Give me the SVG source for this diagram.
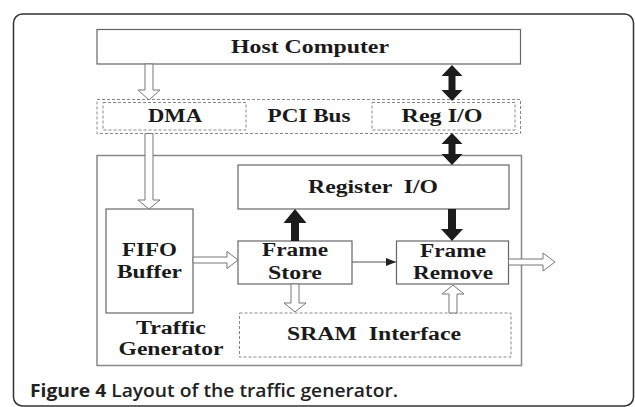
<svg xmlns="http://www.w3.org/2000/svg" width="635" height="407" viewBox="0 0 635 407">
<style>
.t{font-family:"Liberation Serif","Times New Roman",serif;font-weight:bold;font-size:18px;fill:#1a1a1a;text-anchor:middle}
.box{fill:#fff;stroke:#666;stroke-width:1.2}
.dash{fill:none;stroke:#888;stroke-width:1;stroke-dasharray:3,2}
.hollow{fill:#fff;stroke:#777;stroke-width:1}
.solid{fill:#1c1c1c;stroke:none}
.thin{stroke:#555;stroke-width:1.2;fill:none}
.cap{font-family:"Open Sans","Liberation Sans",sans-serif;font-size:18px;fill:#222}
</style>
<defs>
<marker id="ah" viewBox="0 0 10 8" refX="10" refY="4" markerWidth="10" markerHeight="8" markerUnits="userSpaceOnUse" orient="auto">
<path d="M0,0 L10,4 L0,8 z" fill="#222"/>
</marker>
</defs>
<rect x="13.5" y="14" width="620" height="392" rx="9" fill="#fff" stroke="#333" stroke-width="1.5"/>
<g id="traffic-generator">
<rect x="97" y="155.5" width="424.5" height="210" fill="none" stroke="#888" stroke-width="1.5"/>
<text class="t" x="171" y="334" textLength="70" lengthAdjust="spacingAndGlyphs">Traffic</text>
<text class="t" x="171" y="355" textLength="105" lengthAdjust="spacingAndGlyphs">Generator</text>
</g>
<g id="host">
<rect class="box" x="97" y="29.5" width="423.5" height="34.5"/>
<text class="t" x="310" y="52.5" textLength="158" lengthAdjust="spacingAndGlyphs">Host Computer</text>
</g>
<g id="pci-bus">
<rect class="dash" x="97" y="99.5" width="423.5" height="34"/>
<text class="t" x="309" y="122" textLength="83" lengthAdjust="spacingAndGlyphs">PCI Bus</text>
</g>
<g id="dma">
<rect class="dash" x="103" y="102.5" width="143" height="27.5"/>
<text class="t" x="175" y="122" textLength="54" lengthAdjust="spacingAndGlyphs">DMA</text>
</g>
<g id="reg-io">
<rect class="dash" x="372" y="102.5" width="143" height="27.5"/>
<text class="t" x="442" y="122" textLength="81" lengthAdjust="spacingAndGlyphs">Reg I/O</text>
</g>
<g id="register-io">
<rect class="box" x="238" y="165" width="271" height="44"/>
<text class="t" x="373" y="193" textLength="130" lengthAdjust="spacingAndGlyphs" xml:space="preserve">Register  I/O</text>
</g>
<g id="fifo">
<rect class="box" x="106" y="209" width="87" height="104"/>
<text class="t" x="149.5" y="256" textLength="55" lengthAdjust="spacingAndGlyphs">FIFO</text>
<text class="t" x="149.5" y="278" textLength="65" lengthAdjust="spacingAndGlyphs">Buffer</text>
</g>
<g id="frame-store">
<rect class="box" x="238" y="241" width="114" height="43"/>
<text class="t" x="295" y="256" textLength="66" lengthAdjust="spacingAndGlyphs">Frame</text>
<text class="t" x="295" y="279" textLength="54" lengthAdjust="spacingAndGlyphs">Store</text>
</g>
<g id="frame-remove">
<rect class="box" x="396.5" y="241" width="112" height="43"/>
<text class="t" x="453" y="257" textLength="66" lengthAdjust="spacingAndGlyphs">Frame</text>
<text class="t" x="453" y="279" textLength="80" lengthAdjust="spacingAndGlyphs">Remove</text>
</g>
<g id="sram">
<rect class="dash" x="239.5" y="313" width="271.5" height="44"/>
<text class="t" x="374" y="340" textLength="174" lengthAdjust="spacingAndGlyphs" xml:space="preserve">SRAM  Interface</text>
</g>
<g id="connectors">
<polygon class="hollow" points="145,64 153,64 153,90 160,90 149,100 138,90 145,90"/>
<polygon class="hollow" points="145,133.5 153,133.5 153,200 160,200 149,209 138,200 145,200"/>
<polygon class="hollow" points="193,257 227,257 227,251.5 238,260 227,268.5 227,263 193,263"/>
<polygon class="hollow" points="508.5,259 543,259 543,253 555,262 543,271 543,265 508.5,265"/>
<polygon class="hollow" points="291,284 299,284 299,303 306,303 295,312 284,303 291,303"/>
<polygon class="hollow" points="449,313 457,313 457,294 464,294 453,285 442,294 449,294"/>
<polygon class="solid" points="452,65 462.5,76 455.5,76 455.5,90 462.5,90 452,101 441.5,90 448.5,90 448.5,76 441.5,76"/>
<polygon class="solid" points="452,133 462.5,144 455.5,144 455.5,154 462.5,154 452,165 441.5,154 448.5,154 448.5,144 441.5,144"/>
<polygon class="solid" points="295,209 306.5,223 299,223 299,241 291,241 291,223 283.5,223"/>
<polygon class="solid" points="448,209 456,209 456,229 463,229 452,241 441,229 448,229"/>
<line class="thin" x1="352" y1="262" x2="396" y2="262" marker-end="url(#ah)"/>
</g>
<text class="cap" x="30" y="397" textLength="368" lengthAdjust="spacingAndGlyphs"><tspan font-weight="bold">Figure 4</tspan><tspan font-weight="600"> Layout of the traffic generator.</tspan></text>
</svg>
